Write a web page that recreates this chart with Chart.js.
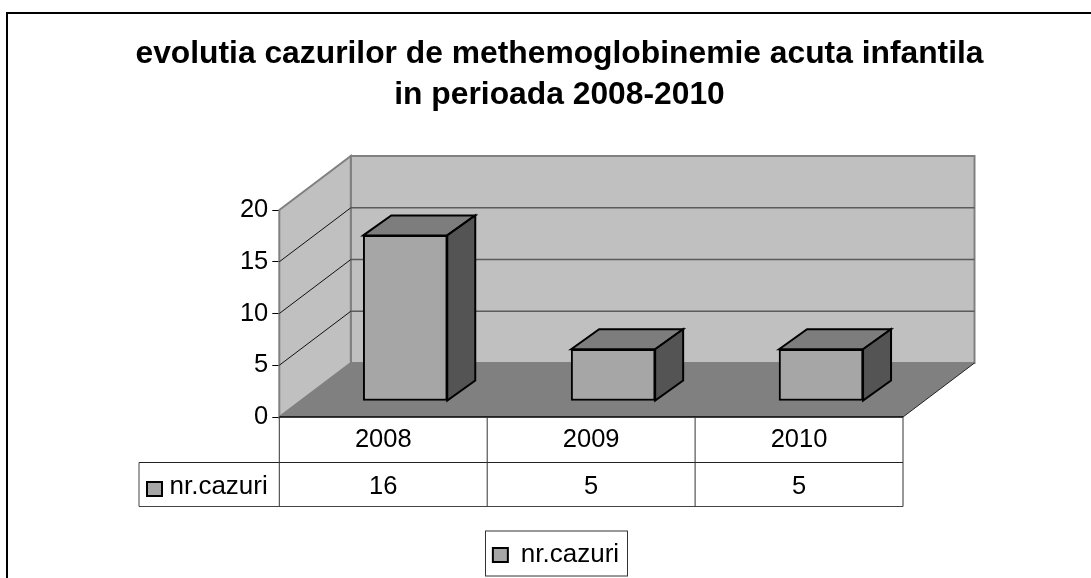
<!DOCTYPE html>
<html>
<head>
<meta charset="utf-8">
<style>
  html, body { margin: 0; padding: 0; background: #fff; overflow: hidden; }
</style>
<script src="https://cdn.jsdelivr.net/npm/chart.js@4"></script>
</head>
<body>
<canvas id="chart" width="1091" height="578"></canvas>
<script>
const titleLines = ["evolutia cazurilor de methemoglobinemie acuta infantila", "in perioada 2008-2010"];
const years = ["2008", "2009", "2010"];
const cases = [16, 5, 5];
const seriesName = "nr.cazuri";
const yTicks = [0, 5, 10, 15, 20];

const FONT = "'Liberation Sans', Arial, sans-serif";
const DEPTH_X = 71.5, DEPTH_Y = -54;     // floor depth of the 3d box
const BAR_X = 22, BAR_Y = -16;           // where the bars stand on the floor
const BAR_DX = 28, BAR_DY = -20;         // depth of one bar

function poly(ctx, pts, fill, stroke, lw) {
  ctx.beginPath();
  pts.forEach((p, i) => i ? ctx.lineTo(p[0], p[1]) : ctx.moveTo(p[0], p[1]));
  ctx.closePath();
  if (fill) { ctx.fillStyle = fill; ctx.fill(); }
  if (stroke) { ctx.strokeStyle = stroke; ctx.lineWidth = lw; ctx.stroke(); }
}

function line(ctx, x1, y1, x2, y2, color, lw) {
  ctx.beginPath();
  ctx.moveTo(x1, y1);
  ctx.lineTo(x2, y2);
  ctx.strokeStyle = color;
  ctx.lineWidth = lw;
  ctx.stroke();
}

const box3d = {
  id: "box3d",
  afterLayout(chart) {
    // the original chart runs off the right side, title and legend centre near x=558
    chart.titleBlock.left = 0;
    chart.titleBlock.right = 1119;
    chart.legend.left = 0;
    chart.legend.right = 1112;
  },
  beforeDraw(chart) {
    // outer frame, right and bottom edges run off the picture
    const ctx = chart.ctx;
    ctx.strokeStyle = "#000";
    ctx.lineWidth = 2;
    ctx.strokeRect(7, 13, 1200, 700);
  },
  beforeDatasetsDraw(chart) {
    const ctx = chart.ctx, a = chart.chartArea, y = chart.scales.y;
    const l = a.left, r = a.right, t = a.top, b = a.bottom;
    const bl = l + DEPTH_X, br = r + DEPTH_X, bb = b + DEPTH_Y, bt = t + DEPTH_Y;

    poly(ctx, [[bl, bt], [br, bt], [br, bb], [bl, bb]], "#c0c0c0", "#808080", 2);
    poly(ctx, [[l, t], [bl, bt], [bl, bb], [l, b]], "#c0c0c0", "#808080", 2);
    poly(ctx, [[l, b], [bl, bb], [br, bb], [r, b]], "#808080", null, 0);
    line(ctx, r, b, br, bb, "#222", 1);

    yTicks.slice(1, -1).forEach(v => {
      const py = y.getPixelForValue(v);
      line(ctx, l, py, bl, py + DEPTH_Y, "#111", 1);
      line(ctx, bl, py + DEPTH_Y, br, py + DEPTH_Y, "#5a5a5a", 1.5);
    });
    line(ctx, l, b, r, b, "#000", 1.5);
  },
  afterDatasetsDraw(chart) {
    const ctx = chart.ctx, a = chart.chartArea, x = chart.scales.x;
    const meta = chart.getDatasetMeta(0);

    // top and side faces of each bar, from the bar elements
    meta.data.forEach(bar => {
      const p = bar.getProps(["x", "y", "base", "width"]);
      const x1 = p.x - p.width / 2 + BAR_X, x2 = p.x + p.width / 2 + BAR_X;
      const y1 = p.y + BAR_Y, y2 = p.base + BAR_Y;
      poly(ctx, [[x1, y1], [x1 + BAR_DX, y1 + BAR_DY], [x2 + BAR_DX, y1 + BAR_DY], [x2, y1]], "#7d7d7d", "#000", 2);
      poly(ctx, [[x2, y1], [x2 + BAR_DX, y1 + BAR_DY], [x2 + BAR_DX, y2 + BAR_DY], [x2, y2]], "#545454", "#000", 2);
    });

    // data table under the floor
    const tableLeft = 139, rowMid = 462.5, rowEnd = 506.5;
    line(ctx, tableLeft, rowMid, a.right, rowMid, "#222", 1);
    line(ctx, tableLeft, rowEnd, a.right, rowEnd, "#444", 1);
    line(ctx, tableLeft, rowMid, tableLeft, rowEnd, "#444", 1);
    const step = (a.right - a.left) / years.length;
    for (let i = 0; i <= years.length; i++) {
      const px = a.left + step * i;
      line(ctx, px, a.bottom, px, rowEnd, "#333", 1);
    }

    ctx.fillStyle = "#000";
    ctx.font = "25.5px " + FONT;
    ctx.textAlign = "center";
    ctx.textBaseline = "middle";
    cases.forEach((v, i) => ctx.fillText(String(v), x.getPixelForValue(i), 487));

    // series key in the table
    ctx.fillStyle = "#a6a6a6";
    ctx.strokeStyle = "#000";
    ctx.lineWidth = 2;
    ctx.fillRect(147, 482, 15, 14);
    ctx.strokeRect(147, 482, 15, 14);
    ctx.fillStyle = "#000";
    ctx.font = "26px " + FONT;
    ctx.textAlign = "left";
    ctx.fillText(seriesName, 169.5, 487);

    // legend frame
    ctx.strokeStyle = "#333";
    ctx.lineWidth = 1;
    ctx.strokeRect(485.5, 531, 142, 45);
  }
};

// bars stand further back on the floor than the axis plane
const shiftBars = {
  id: "shiftBars",
  beforeDatasetDraw(chart) {
    chart.ctx.save();
    chart.ctx.translate(BAR_X, BAR_Y);
  },
  afterDatasetDraw(chart) {
    chart.ctx.restore();
  }
};

new Chart(document.getElementById("chart"), {
  type: "bar",
  data: {
    labels: years,
    datasets: [{
      label: seriesName,
      data: cases,
      backgroundColor: "#a6a6a6",
      borderColor: "#000",
      borderWidth: 2,
      borderSkipped: false,
      barThickness: 84,
      clip: false
    }]
  },
  plugins: [box3d, shiftBars],
  options: {
    responsive: false,
    animation: false,
    layout: { padding: { left: 25, right: 188, top: 0, bottom: 0 } },
    plugins: {
      tooltip: { enabled: false },
      title: {
        display: true,
        text: titleLines,
        color: "#000",
        font: { family: FONT, size: 31.8, weight: "bold", lineHeight: 1.29 },
        padding: { top: 33.5, bottom: 94.5 }
      },
      legend: {
        position: "bottom",
        labels: {
          color: "#000",
          font: { family: FONT, size: 26 },
          boxWidth: 15,
          boxHeight: 14,
          padding: 10
        }
      }
    },
    scales: {
      x: {
        grid: { display: false },
        border: { display: false },
        afterFit(scale) { scale.height = 115; },
        ticks: {
          color: "#000",
          font: { family: FONT, size: 25.5 },
          maxRotation: 0,
          padding: 0
        }
      },
      y: {
        min: 0,
        max: 20,
        afterFit(scale) { scale.width = 254.3; },
        afterBuildTicks(scale) { scale.ticks = yTicks.map(v => ({ value: v })); },
        border: { display: true, color: "#000", width: 1 },
        grid: { drawOnChartArea: false, drawTicks: true, tickLength: 7, color: "#000" },
        ticks: {
          color: "#000",
          font: { family: FONT, size: 25.5 },
          padding: 4
        }
      }
    }
  }
});
</script>
</body>
</html>
